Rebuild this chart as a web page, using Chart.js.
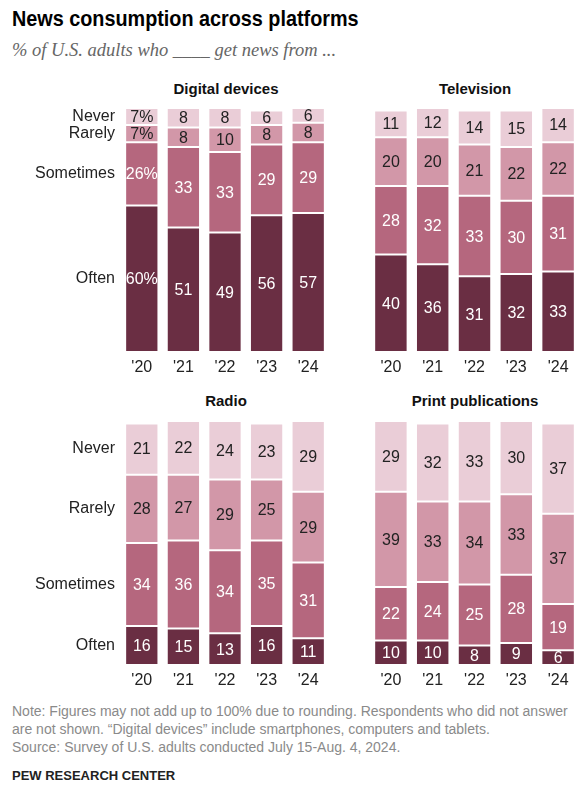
<!DOCTYPE html>
<html>
<head>
<meta charset="utf-8">
<script src="https://cdn.jsdelivr.net/npm/chart.js@4/dist/chart.umd.min.js"></script>
<style>
  body { margin: 0; background: #fff; font-family: "Liberation Sans", Arial, sans-serif; }
  #page { position: relative; width: 579px; height: 788px; overflow: hidden; }
  .abs { position: absolute; white-space: nowrap; }
  #title { left: 12px; top: 6px; font-size: 22px; font-weight: bold; color: #000; transform: scaleX(0.9); transform-origin: left; }
  #subtitle { left: 12px; top: 40px; font-family: "Liberation Serif", serif; font-style: italic; font-size: 18.5px; color: #666; }
  .ptitle { font-size: 15px; font-weight: bold; color: #111; transform: translateX(-50%); }
  .note { left: 12px; font-size: 14px; color: #8a8a8a; }
  #pew { left: 12px; top: 768px; font-size: 13px; font-weight: bold; color: #222; }
  canvas { position: absolute; }
</style>
</head>
<body>
<div id="page">
  <div id="title" class="abs">News consumption across platforms</div>
  <div id="subtitle" class="abs">% of U.S. adults who ____ get news from ...</div>

  <div class="abs ptitle" style="left:226px; top:80px">Digital devices</div>
  <div class="abs ptitle" style="left:475px; top:80px">Television</div>
  <div class="abs ptitle" style="left:226px; top:392px">Radio</div>
  <div class="abs ptitle" style="left:475px; top:392px">Print publications</div>

  <div style="position:absolute; left:0; top:104px; width:335px; height:274px"><canvas id="c1"></canvas></div>
  <div style="position:absolute; left:340px; top:104px; width:239px; height:274px"><canvas id="c2"></canvas></div>
  <div style="position:absolute; left:0; top:417px; width:335px; height:274px"><canvas id="c3"></canvas></div>
  <div style="position:absolute; left:340px; top:417px; width:239px; height:274px"><canvas id="c4"></canvas></div>

  <div class="abs note" style="top:703px">Note: Figures may not add up to 100% due to rounding. Respondents who did not answer</div>
  <div class="abs note" style="top:721px">are not shown. “Digital devices” include smartphones, computers and tablets.</div>
  <div class="abs note" style="top:739px">Source: Survey of U.S. adults conducted July 15-Aug. 4, 2024.</div>
  <div id="pew" class="abs">PEW RESEARCH CENTER</div>
</div>

<script>
const years = ["'20", "'21", "'22", "'23", "'24"];
const levels = ['Often', 'Sometimes', 'Rarely', 'Never'];

const digitalOften = [60, 51, 49, 56, 57];
const digitalSometimes = [26, 33, 33, 29, 29];
const digitalRarely = [7, 8, 10, 8, 8];
const digitalNever = [7, 8, 8, 6, 6];

const tvOften = [40, 36, 31, 32, 33];
const tvSometimes = [28, 32, 33, 30, 31];
const tvRarely = [20, 20, 21, 22, 22];
const tvNever = [11, 12, 14, 15, 14];

const radioOften = [16, 15, 13, 16, 11];
const radioSometimes = [34, 36, 34, 35, 31];
const radioRarely = [28, 27, 29, 25, 29];
const radioNever = [21, 22, 24, 23, 29];

const printOften = [10, 10, 8, 9, 6];
const printSometimes = [22, 24, 25, 28, 19];
const printRarely = [39, 33, 34, 33, 37];
const printNever = [29, 32, 33, 30, 37];

const colors = ['#6a2e43', '#b5677e', '#d297a8', '#eacdd7'];
const textColors = ['#fff', '#fff', '#222', '#222'];
const FONT = '"Liberation Sans", Arial, sans-serif';

// writes values inside segments, and row names left of the first bar
const segLabels = {
  id: 'segLabels',
  afterDatasetsDraw(chart, args, opts) {
    const ctx = chart.ctx;
    ctx.save();
    ctx.font = '16px ' + FONT;
    ctx.textAlign = 'center';
    ctx.textBaseline = 'middle';
    chart.data.datasets.forEach((ds, i) => {
      const meta = chart.getDatasetMeta(i);
      meta.data.forEach((bar, j) => {
        const mid = (bar.y + bar.base) / 2;
        let txt = String(ds.data[j]);
        if (opts.pct && j === 0) txt += '%';
        ctx.fillStyle = textColors[i];
        ctx.fillText(txt, bar.x, mid + 1);
      });
      if (opts.rows) {
        const b = meta.data[0];
        ctx.fillStyle = '#222';
        ctx.textAlign = 'right';
        ctx.fillText(ds.label, chart.chartArea.left - 6, (b.y + b.base) / 2);
        ctx.textAlign = 'center';
      }
    });
    ctx.restore();
  }
};

function makeChart(id, series, padLeft, padRight, opts) {
  new Chart(document.getElementById(id), {
    type: 'bar',
    data: {
      labels: years,
      datasets: series.map((d, i) => ({
        label: levels[i],
        data: d,
        backgroundColor: colors[i],
        borderColor: '#fff',
        borderWidth: 1,
        borderSkipped: false,
        categoryPercentage: 1,
        barPercentage: 0.8
      }))
    },
    options: {
      responsive: true,
      maintainAspectRatio: false,
      animation: false,
      layout: { padding: { left: padLeft, right: padRight, top: 4, bottom: 0 } },
      plugins: {
        legend: { display: false },
        tooltip: { enabled: false },
        segLabels: opts
      },
      scales: {
        x: {
          stacked: true,
          grid: { display: false, drawTicks: false },
          border: { display: false },
          ticks: { color: '#222', padding: 6, font: { size: 16, family: FONT } },
          afterFit: s => { s.height = 26; }
        },
        y: {
          stacked: true,
          display: false,
          min: 0,
          max: 100
        }
      }
    },
    plugins: [segLabels]
  });
}

makeChart('c1', [digitalOften, digitalSometimes, digitalRarely, digitalNever], 121, 6, { rows: true, pct: true });
makeChart('c2', [tvOften, tvSometimes, tvRarely, tvNever], 30, 0, {});
makeChart('c3', [radioOften, radioSometimes, radioRarely, radioNever], 121, 6, { rows: true });
makeChart('c4', [printOften, printSometimes, printRarely, printNever], 30, 0, {});
</script>
</body>
</html>
